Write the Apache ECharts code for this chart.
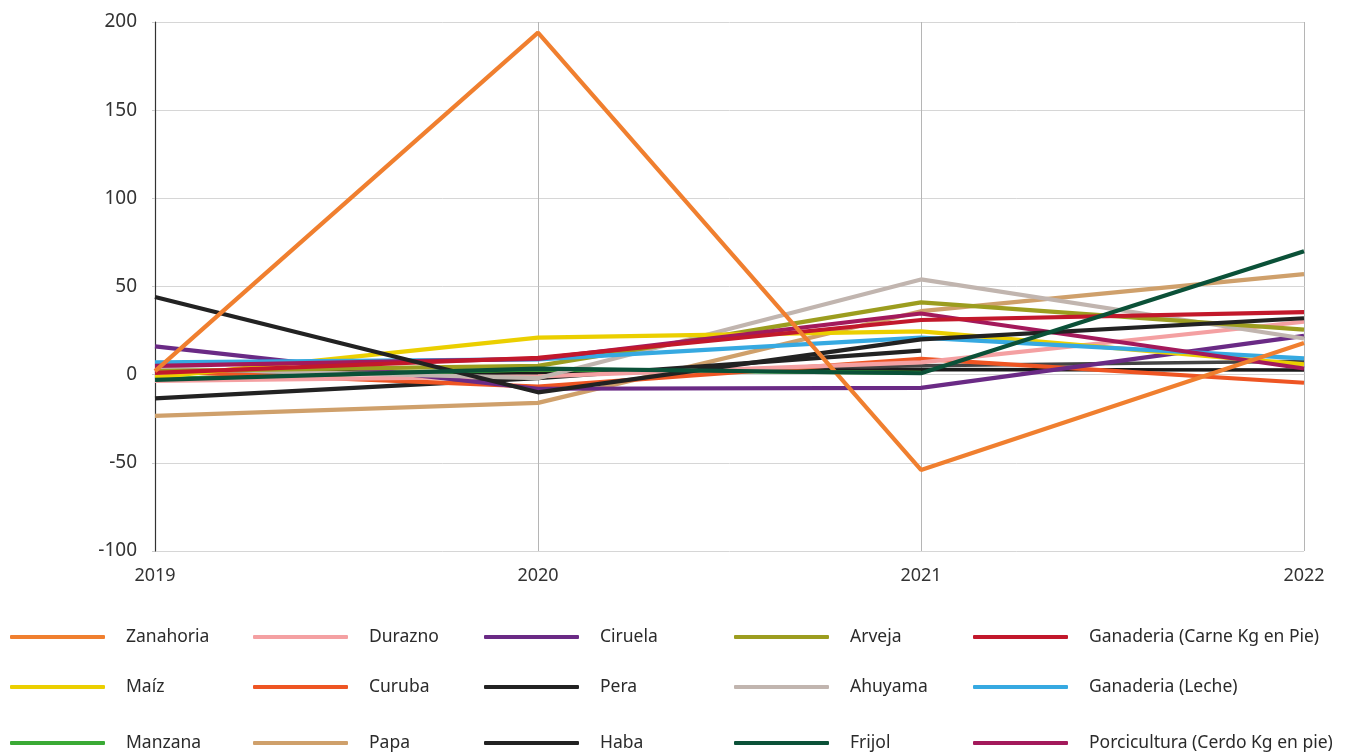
<!DOCTYPE html>
<html>
<head>
<meta charset="utf-8">
<script src="https://cdn.jsdelivr.net/npm/echarts@6/dist/echarts.min.js"></script>
<style>
html,body{margin:0;padding:0;background:#fff;}
#chart{width:1354px;height:756px;}
</style>
</head>
<body>
<div id="chart"></div>
<script>
const years = ['2019', '2020', '2021', '2022'];
const yTicks = { min: -100, max: 200, interval: 50 };

const zanahoria   = [2, 194, -54, 18];
const durazno     = [-3.5, -1, 7, 30];
const ciruela     = [16, -8, -7.5, 22];
const arveja      = [2, 5, 41, 25.5];
const carne       = [1, 9.6, 31, 35.5];
const maiz        = [-1.5, 21, 24.5, 5.8];
const curuba      = [2, -6.8, 9, -4.6];
const pera        = [44, -10, 20, 32];
const ahuyama     = [3.5, -2, 54, 20.5];
const leche       = [7, 8.7, 21, 9.2];
const manzana     = [-2.5, 3, 1, null];
const papa        = [-23.4, -16, 36, 57];
const haba        = [-13.4, -2, 13.6, null];
const frijol      = [-3, 3.4, 0.8, 70];
const porcicultura= [5, 9, 34.7, 3.5];
const otraGris    = [2, 0.6, 5, 7.6];
const otraNegra   = [2.4, 1, 3, 2.6];

const seriesDefs = [
  { name: 'Zanahoria', data: zanahoria, color: '#F07F2F' },
  { name: 'Durazno', data: durazno, color: '#F4A0A2' },
  { name: 'Ciruela', data: ciruela, color: '#6A2A85' },
  { name: 'Arveja', data: arveja, color: '#9C9D1F' },
  { name: 'Ganaderia (Carne Kg en Pie)', data: carne, color: '#C2182B' },
  { name: 'Maíz', data: maiz, color: '#EBCF00' },
  { name: 'Curuba', data: curuba, color: '#EE5523' },
  { name: 'Pera', data: pera, color: '#222222' },
  { name: 'Ahuyama', data: ahuyama, color: '#C1B5AF' },
  { name: 'Ganaderia (Leche)', data: leche, color: '#36A9E1' },
  { name: 'Manzana', data: manzana, color: '#3AAA35' },
  { name: 'Papa', data: papa, color: '#CFA06B' },
  { name: 'Haba', data: haba, color: '#222222' },
  { name: 'Frijol', data: frijol, color: '#0B5138' },
  { name: 'Porcicultura (Cerdo Kg en pie)', data: porcicultura, color: '#A3195B' }
];
const extraDefs = [
  { name: 'Otra 1', data: otraGris, color: '#444444' },
  { name: 'Otra 2', data: otraNegra, color: '#1a1a1a' }
];

// legend layout: 5 columns x 3 rows (row-major order)
const colX = [10, 253, 484, 734, 973];
const rowY = [635, 685, 741];

const legends = seriesDefs.map((s, i) => {
  const r = Math.floor(i / 5), c = i % 5;
  return {
    data: [s.name],
    left: colX[c],
    top: rowY[r] - 11,
    padding: 0,
    itemWidth: 95,
    itemHeight: 4,
    icon: 'roundRect',
    selectedMode: false,
    textStyle: { fontSize: 17.5, color: '#2b2b2b', fontFamily: 'Noto Sans', padding: [0, 0, 4, 16], lineHeight: 22 }
  };
});

const drawOrder = [10, 11, 12, 6, 1, 2, 8, 3, 5, 9, 14, 4, 7, 0, 13];
const series = [];
extraDefs.forEach(s => series.push({
  name: s.name, type: 'line', data: s.data, symbol: 'none', silent: true,
  lineStyle: { width: 3.5, color: s.color }, itemStyle: { color: s.color }, z: 2
}));
seriesDefs.forEach((s, i) => series.push({
  name: s.name, type: 'line', data: s.data, symbol: 'none',
  lineStyle: { width: 4.2, color: s.color }, itemStyle: { color: s.color },
  z: 3 + drawOrder.indexOf(i) * 0.01
}));

const chart = echarts.init(document.getElementById('chart'), null, { renderer: 'canvas' });
chart.setOption({
  animation: false,
  backgroundColor: '#ffffff',
  grid: { left: 155, right: 50, top: 22, bottom: 205, containLabel: false },
  legend: legends,
  xAxis: {
    type: 'category',
    data: years,
    boundaryGap: false,
    axisLine: { show: true, lineStyle: { color: '#d4d4d4', width: 1 } },
    axisTick: { show: true, length: 8, lineStyle: { color: '#b5b5b5' } },
    axisLabel: { fontSize: 18, color: '#333', fontFamily: 'Noto Sans', margin: 16 },
    splitLine: { show: true, lineStyle: { color: '#b5b5b5', width: 1 } }
  },
  yAxis: {
    type: 'value',
    min: yTicks.min, max: yTicks.max, interval: yTicks.interval,
    axisLine: { show: true, lineStyle: { color: '#333', width: 1.2 } },
    axisTick: { show: true, length: 3, lineStyle: { color: '#ccc' } },
    axisLabel: { fontSize: 19, color: '#333', fontFamily: 'Noto Sans', margin: 18 },
    splitLine: { show: true, lineStyle: { color: '#d6d6d6', width: 1 } }
  },
  series: series
});
</script>
</body>
</html>
